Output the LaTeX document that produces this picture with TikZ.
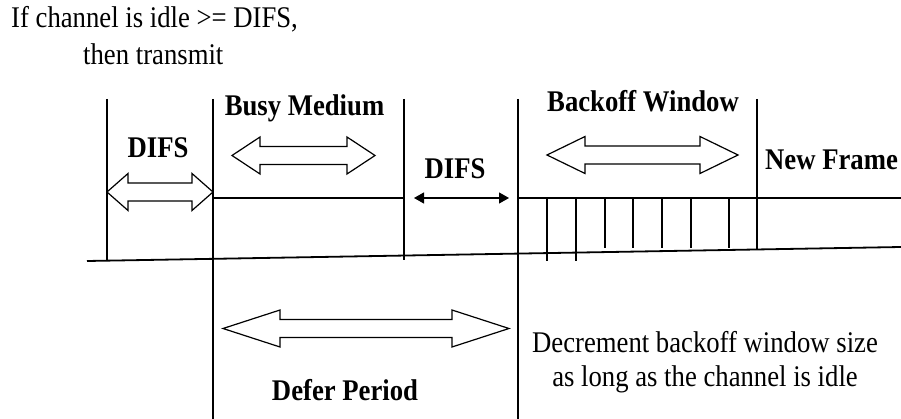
\documentclass[tikz,border=0pt]{standalone}
\usepackage{fontspec}
\setmainfont{Liberation Serif}[FakeStretch=0.89]
\usepackage{tikz}
\usetikzlibrary{arrows.meta}
\tikzset{
  slot-line/.style={line width=1.2pt,draw=black},
  base-line/.style={line width=1.8pt,draw=black},
  hollow-arrow/.style={line width=1.2pt,draw=black,fill=white,line join=miter},
  arrow-difs/.style={{Triangle[length=10pt,width=11pt]}-{Triangle[length=10pt,width=11pt]},
    line width=1.2pt,draw=black},
  label-bold/.style={font=\fontsize{30}{34}\selectfont\bfseries,inner sep=0pt,anchor=base},
  label-text/.style={font=\fontsize{30}{34}\selectfont,inner sep=0pt,anchor=base},
}
% left x, right x, middle y, head length
\newcommand{\hollowarrow}[4]{%
  \draw[hollow-arrow] (#1,#3) -- (#1+#4,#3-18.5) -- (#1+#4,#3-9) -- (#2-#4,#3-9)
    -- (#2-#4,#3-18.5) -- (#2,#3) -- (#2-#4,#3+18.5) -- (#2-#4,#3+9)
    -- (#1+#4,#3+9) -- (#1+#4,#3+18.5) -- cycle;}

\begin{document}
\begin{tikzpicture}[x=1pt,y=-1pt]
  \useasboundingbox (0,0) rectangle (901,419);
  % time axis and boundaries
  \draw[base-line] (87,261) -- (901,247);
  \draw[slot-line] (107,99) -- (107,260);
  \draw[slot-line] (213,99) -- (213,419);
  \draw[slot-line] (404,99) -- (404,260);
  \draw[slot-line] (518,99) -- (518,419);
  \draw[slot-line] (757,99) -- (757,249);
  \draw[slot-line] (213,198) -- (404,198);
  \draw[slot-line] (518,198) -- (901,198);
  % backoff slots
  \foreach \x in {547,576}
    \draw[slot-line] (\x,198) -- (\x,261);
  \foreach \x in {605,633,662,691,729}
    \draw[slot-line] (\x,198) -- (\x,248);
  % durations
  \foreach \l/\r/\y/\h in {107/213/192/21, 232/375/155.5/28, 547/738/155/38, 223/509/328.5/57}
    \hollowarrow{\l}{\r}{\y}{\h};
  \coordinate (difs-b-l) at (414,198);
  \coordinate (difs-b-r) at (509,198);
  \draw[arrow-difs] (difs-b-l) -- (difs-b-r);
  % labels
  \node[label-text,anchor=base west] (cond1) at (11,28) {If channel is idle >= DIFS,};
  \node[label-text,anchor=base west] (cond2) at (83,65) {then transmit};
  \node[label-bold] (difs-a) at (158,158) {DIFS};
  \node[label-bold] (busy) at (304.5,116) {Busy Medium};
  \node[label-bold] (difs-b) at (455,179) {DIFS};
  \node[label-bold] (backoff) at (643,112) {Backoff Window};
  \node[label-bold,anchor=base west] (newframe) at (765,170) {New Frame};
  \node[label-bold] (defer) at (345,400) {Defer Period};
  \node[label-text] (dec1) at (705,352) {Decrement backoff window size};
  \node[label-text] (dec2) at (705,386) {as long as the channel is idle};
\end{tikzpicture}
\end{document}
